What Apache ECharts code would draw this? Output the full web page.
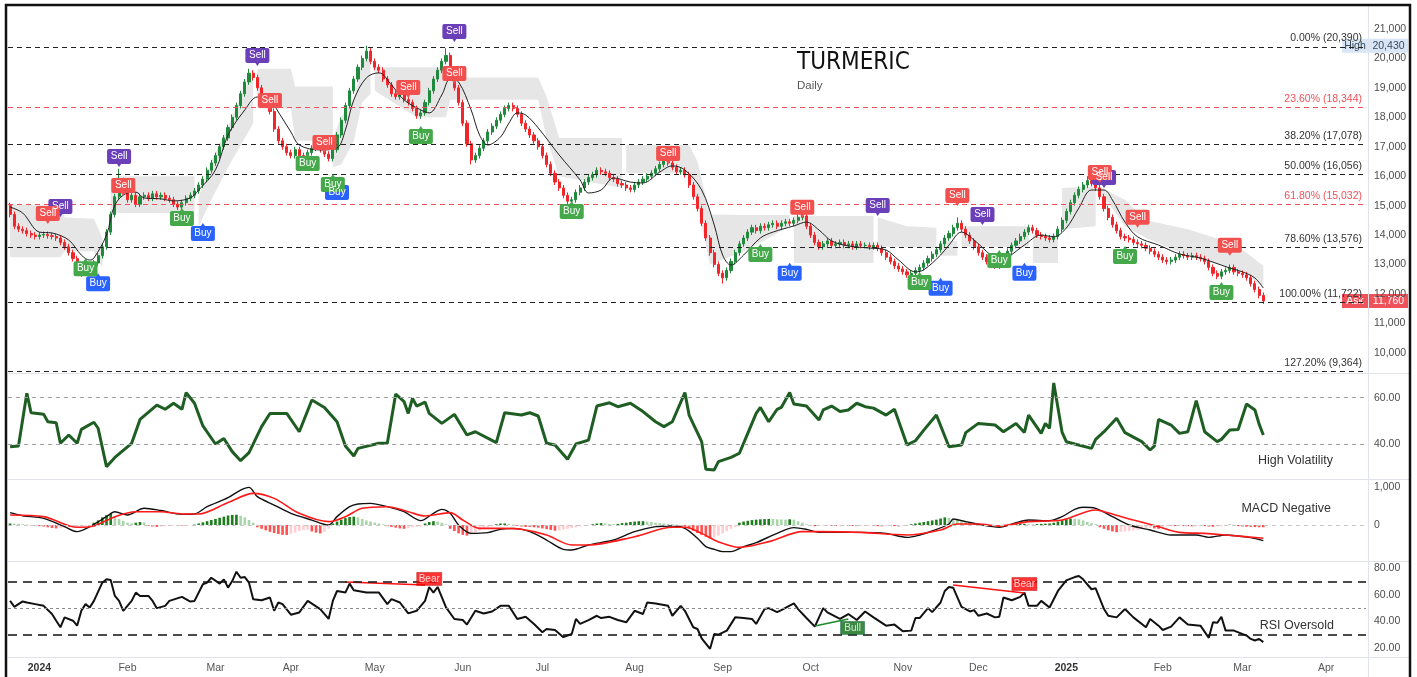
<!DOCTYPE html>
<html>
<head>
<meta charset="utf-8">
<title>TURMERIC Daily</title>
<script src="https://cdn.jsdelivr.net/npm/echarts@6/dist/echarts.min.js"></script>
<style>
  html, body { margin: 0; padding: 0; background: #fff; }
  #main { width: 1417px; height: 677px; }
</style>
</head>
<body>
<div id="main"></div>
<script>
// trading days from 20 Dec 2023, exchange holidays skipped, empty bars up to mid April 2025
const startDate = '2023-12-20';
const holidays = ['2023-12-25', '2024-01-22', '2024-01-26', '2024-03-08', '2024-03-25', '2024-03-29',
  '2024-04-11', '2024-04-17', '2024-05-01', '2024-05-20', '2024-06-17', '2024-07-17', '2024-08-15',
  '2024-10-02', '2024-11-01', '2024-11-15', '2024-11-20', '2024-12-25', '2025-02-26', '2025-03-14'];
const totalBars = 324;
const monthNames = ['Jan', 'Feb', 'Mar', 'Apr', 'May', 'Jun', 'Jul', 'Aug', 'Sep', 'Oct', 'Nov', 'Dec'];

// daily closes (one per trading day)
const firstOpen = 15000;
const closes = [
  14700, 14300, 14200, 14150, 14050, 14000, 13950, 14000, 14020, 13980,
  13950, 13900, 13750, 13600, 13400, 13200, 12950, 12750, 12800, 12900,
  13050, 13300, 13600, 14100, 14700, 15300, 15850, 15450, 15200, 15350,
  15050, 15300, 15350, 15250, 15400, 15300, 15350, 15250, 15200, 15050,
  14950, 15100, 15250, 15350, 15500, 15700, 15900, 16200, 16450, 16700,
  17000, 17300, 17650, 18000, 18400, 18800, 19200, 19500, 19350, 19000,
  18700, 18500, 18200, 17600, 17200, 17000, 16800, 16700, 16900, 16700,
  16600, 16800, 16950, 17000, 16900, 16750, 16600, 16900, 17400, 17900,
  18400, 18900, 19300, 19700, 20000, 20250, 19900, 19700, 19600, 19300,
  19100, 18800, 18700, 18900, 18600, 18500, 18300, 18050, 18150, 18500,
  18900, 19300, 19600, 19900, 20100, 19400, 19000, 18500, 17800, 17100,
  16550, 16700, 16950, 17200, 17500, 17700, 17900, 18100, 18300, 18400,
  18300, 18100, 17800, 17600, 17400, 17200, 17000, 16700, 16400, 16100,
  15800, 15600, 15350, 15150, 15200, 15450, 15600, 15800, 15950, 16050,
  16200, 16150, 16100, 15950, 15900, 15750, 15700, 15600, 15550, 15700,
  15800, 15900, 16000, 16100, 16250, 16400, 16550, 16450, 16300, 16150,
  16200, 16050, 15700, 15300, 14900, 14400, 13900, 13400, 13000, 12700,
  12550, 12800, 13100, 13400, 13700, 13900, 14100, 14250, 14150, 14300,
  14250, 14350, 14400, 14300, 14400, 14450, 14400, 14500, 14600, 14650,
  14300, 14000, 13750, 13600, 13700, 13800, 13650, 13700, 13750, 13650,
  13700, 13600, 13700, 13650, 13650, 13600, 13650, 13550, 13400, 13250,
  13100, 12950, 12850, 12750, 12650, 12700, 12800, 12900, 13050, 13200,
  13350, 13500, 13700, 13900, 14050, 14250, 14400, 14200, 14000, 13800,
  13600, 13400, 13250, 13100, 13000, 12950, 13100, 13250, 13450, 13650,
  13800, 13950, 14100, 14250, 14150, 14000, 13950, 13900, 13850, 13950,
  14200, 14500, 14800, 15100, 15350, 15550, 15700, 15850, 15750, 15600,
  15300, 14900, 14600, 14350, 14150, 13950, 13900, 13850, 13750, 13700,
  13650, 13550, 13450, 13350, 13250, 13150, 13100, 13150, 13250, 13350,
  13300, 13250, 13300, 13250, 13200, 13100, 12900, 12700, 12600, 12750,
  12800, 12900, 12750, 12700, 12650, 12550, 12350, 12150, 11950, 11760
];
const wick = 100;
const highPeaks = { 26: 16250, 57: 19650, 85: 20430, 104: 20350, 119: 18500, 226: 14600, 257: 16000 };
const lowTroughs = { 17: 12580, 110: 16400, 170: 12350, 214: 12550, 235: 12850 };

// black moving average [bar, price]
const maLine = [[0,14950],[3,14750],[7,14100],[10,14070],[14,13830],[17,13320],[19,13150],[20,13220],[23,14000],[25,15020],[28,15430],[30,15460],[32,15260],[36,15230],[39,15160],[43,15260],[45,15530],[49,16210],[52,17400],[56,18250],[59,18690],[62,18590],[64,18180],[67,17500],[69,17060],[74,16890],[78,16960],[80,17570],[82,18590],[85,19340],[88,19510],[91,19100],[94,18590],[98,18250],[100,18150],[103,18760],[105,19300],[107,19200],[110,18250],[112,17400],[114,17060],[117,17330],[119,17800],[121,18150],[123,18080],[126,17640],[131,16720],[136,15870],[138,15430],[141,15530],[144,15940],[148,15800],[151,15770],[155,16140],[158,16350],[161,16210],[165,15530],[168,14340],[170,13320],[172,12980],[175,13320],[179,13900],[182,14100],[187,14310],[190,14440],[193,14170],[196,13800],[200,13630],[205,13560],[209,13490],[212,13150],[216,12750],[218,12820],[222,13320],[224,13660],[227,14100],[230,13830],[234,13320],[236,13190],[238,13250],[242,13660],[246,14000],[249,13940],[252,14240],[255,14920],[258,15530],[261,15530],[263,15190],[266,14440],[269,13940],[274,13660],[279,13360],[284,13220],[287,13080],[291,12880],[294,12750],[297,12540],[299,12200]];

// grey cloud: segments of [bar, lower, upper]
const bandSegments = [
  [[0,13250,15050],[12,13250,15000],[13,13450,14600],[20,13450,14550],[22,12900,13900]],
  [[24,14800,15900],[26,14750,16000],[44,14750,16000]],
  [[45,14300,15300],[48,15200,16500],[52,16300,17700],[56,17300,19000],[58,17800,19600]],
  [[59,18300,19650],[67,18300,19650],[68,17200,19050],[77,17200,19050]],
  [[77,16300,17300],[79,16400,18000],[82,17200,18600],[84,18500,19900],[86,18800,20100]],
  [[87,18900,19700],[97,18000,19700],[104,18000,19700],[105,18600,19350],[126,18600,19350],[128,17300,18700],[131,16000,17300],[146,15600,17300]],
  [[147,16100,17060],[162,16100,17060],[164,15000,16500],[167,13000,14700],[176,13500,14680],[186,14300,14680]],
  [[187,13050,14650],[206,13050,14650]],
  [[207,13600,14600],[214,13600,14300],[221,13550,14250]],
  [[222,13300,13800],[226,13300,13800]],
  [[227,13600,14300],[243,13600,14300]],
  [[244,13050,14000],[250,13050,14000]],
  [[251,14200,15600],[259,14300,15650]],
  [[260,15500,15650],[263,14900,15400],[266,14300,15200],[271,13900,14500],[281,13300,14200],[291,12900,13750],[295,12700,13400],[299,12200,12950]]
];

// fibonacci retracement
const fibLevels = [20390, 18344, 17078, 16056, 15032, 13576, 11722, 9364];
const fibNames = ['0.00%', '23.60%', '38.20%', '50.00%', '61.80%', '78.60%', '100.00%', '127.20%'];
const fibRed = [false, true, false, false, true, false, false, false];

// signal flags [bar, price]
const sellRed = [[9,14680],[27,15630],[62,18520],[75,17090],[95,18960],[106,19440],[157,16720],[189,14890],[226,15290],[260,16070],[269,14550],[291,13600]];
const sellPurple = [[12,14920],[26,16620],[59,20050],[106,20860],[207,14950],[232,14650],[261,15900]];
const buyGreen = [[18,12910],[41,14610],[71,16480],[77,15770],[98,17400],[134,14850],[179,13390],[217,12440],[236,13190],[266,13320],[289,12100]];
const buyBlue = [[21,12400],[46,14100],[78,15500],[186,12750],[222,12240],[242,12750]];

// volatility [bar, value]
const volatility = [[0,38.8],[2,39.1],[4,61.9],[5,53.5],[8,52.9],[9,49.6],[11,49.2],[12,40.3],[14,43.9],[16,40.3],[17,46.3],[20,49.4],[21,46.8],[23,30.2],[25,34.2],[29,40.3],[31,50.6],[35,56.8],[37,55],[39,57.6],[41,55],[42,62.2],[44,57.6],[46,47.8],[49,40],[51,42.4],[53,36.7],[55,32.8],[57,36.3],[60,47.5],[62,53.2],[66,53.2],[69,45.3],[72,59],[75,55.8],[78,49.6],[80,39.1],[82,34.8],[83,38.1],[88,40.3],[90,40.3],[92,61.6],[94,58.3],[95,53.2],[96,59.7],[97,56.4],[99,58.1],[100,53.2],[103,48.9],[106,52.8],[109,43.9],[111,45.3],[116,40.6],[118,53.5],[122,52.5],[124,53.5],[126,52.1],[128,40.3],[130,39.6],[133,33.4],[135,40],[138,41.7],[140,56.4],[143,57.8],[145,56.1],[148,57.6],[151,54],[154,49.6],[156,47.5],[158,49.6],[161,62.2],[162,52.5],[165,41],[166,29.1],[168,28.8],[169,32.4],[172,34.2],[174,36],[176,44.6],[178,53.2],[179,55.8],[181,49.6],[183,55],[184,55.8],[186,62.2],[187,57.3],[190,56.4],[193,50.4],[194,54.7],[196,56.4],[198,54],[200,54.7],[202,57.6],[204,56.1],[206,55.5],[209,52.5],[211,55],[214,39.6],[216,41.4],[218,46],[221,52.5],[224,38.8],[227,39.6],[228,44.9],[231,48.9],[235,48.2],[237,45.3],[240,48.9],[242,45],[243,52.5],[246,44.6],[247,48.9],[248,46.8],[249,66.4],[251,45],[252,41],[254,40],[258,38.1],[259,42],[261,45.3],[264,51.1],[266,44.9],[270,41],[272,37.4],[273,39.1],[274,50.6],[277,48.2],[279,44.6],[281,45.3],[283,58.7],[285,45.3],[288,41],[289,42],[291,46],[293,46.3],[295,57.3],[297,54.7],[298,48.6],[299,43.9]];

// MACD and signal [bar, value]
const macdLine = [[0,325],[3,245],[8,175],[13,-44],[16,-175],[19,-44],[23,220],[25,350],[28,263],[32,440],[36,380],[41,280],[44,290],[47,482],[52,720],[55,920],[57,990],[59,745],[63,526],[67,307],[72,130],[76,0],[78,220],[81,482],[83,553],[86,570],[90,482],[94,350],[98,114],[101,307],[103,412],[105,307],[107,0],[110,-220],[114,-200],[117,-114],[120,-88],[124,-175],[128,-395],[132,-640],[134,-658],[138,-526],[144,-395],[149,-175],[154,-44],[158,-26],[161,-88],[164,-350],[166,-570],[168,-640],[170,-700],[172,-700],[175,-570],[178,-465],[183,-220],[187,-70],[190,-114],[193,-193],[198,-193],[203,-193],[209,-220],[214,-325],[217,-263],[220,-158],[224,26],[225,158],[228,88],[231,18],[236,-61],[240,61],[243,132],[248,114],[251,220],[254,412],[256,465],[259,438],[263,220],[267,0],[272,-132],[277,-263],[283,-263],[286,-325],[290,-263],[296,-333],[299,-412]];
const signalLine = [[0,263],[8,220],[16,-61],[20,-26],[25,220],[30,350],[36,350],[41,290],[45,290],[52,590],[58,833],[63,700],[69,307],[76,88],[80,220],[84,440],[90,482],[95,350],[99,237],[105,325],[108,132],[112,-88],[117,-88],[122,-114],[128,-263],[134,-526],[138,-526],[149,-307],[158,-61],[161,-61],[165,-220],[168,-395],[170,-482],[174,-588],[181,-438],[189,-175],[193,-175],[203,-193],[214,-263],[222,-132],[226,26],[231,26],[236,-26],[243,88],[251,132],[259,395],[261,350],[268,132],[274,-44],[279,-193],[285,-220],[290,-263],[299,-350]];
// histogram runs: [first bar, values...]
const histRuns = [
  [0, [40,35,30,20,10]],
  [5, [-10,-20,-30,-40,-60,-80,-90,-85]],
  [13, [-70,-60,-50,-40,-30,-20,-10]],
  [20, [60,120,200,260,290,220,160,110,60,40]],
  [30, [60,80,70,-20,-40,-50,-45,-30,-20,-15,-10,-15,-10,-5,10]],
  [45, [40,70,100,130,160,190,220,250,265,270,240,200,130,60]],
  [59, [-60,-100,-140,-180,-210,-240,-260,-263,-230,-200,-160,-130,-120,-170,-200,-220,-180,-100]],
  [77, [40,90,140,180,210,220,200,160,120,90,60,40,20]],
  [90, [-30,-50,-70,-90,-100,-80,-60,-50,-40,40,80,100,90,60,20]],
  [105, [-100,-160,-220,-260,-280,-250,-200,-150,-110,-70,-40,20,40,40,30,10]],
  [121, [-20,-40,-50,-50,-60,-70,-90,-110,-130,-150,-140,-120,-100,-80,-60,-40,-20,-10]],
  [139, [20,40,50,40,30,20,30,50,60,80,90,100,100,90,80,60,50,40,30,20,10,5]],
  [161, [-40,-90,-150,-210,-260,-310,-350,-330,-280,-220,-160,-100,-50]],
  [174, [60,90,110,130,140,150,155,160,158,150,145,140,150,140,100,60,20]],
  [191, [-20,-30,-25,-20,-15,-20,-25,-20,-15,-20,-25,-30,-25,-20,-15,-20,-30,-35,-30,-25,-30,-35,-30,-20]],
  [215, [20,40,60,80,100,120,140,170,200,190,160,140,110,80,60,40,25,10]],
  [233, [-10,-20,-25,-30,-25,-20,-10,20,30,30,25,20,25,30,35,40]],
  [249, [60,90,120,150,170,165,150,120,80,50,20]],
  [260, [-60,-100,-140,-170,-190,-180,-170,-160,-140,-120,-100,-80,-70,-90,-100]],
  [275, [-50,-40,-30,-30,-20,-25,-30,-35,-30,-25,-30,-40,-45,-40,-35,-30,10,5]],
  [293, [-30,-40,-45,-50,-55,-60,-60]]
];

// RSI [bar, value]
const rsiLine = [[0,55.4],[1,51],[3,55],[4,54.2],[6,53],[8,51.7],[10,45.6],[11,40.6],[12,35.7],[13,43.1],[15,40.6],[16,36.9],[17,48],[18,53],[19,50.5],[20,55.4],[22,69],[23,71.5],[24,71],[25,59.1],[26,55.4],[27,48],[29,55.4],[30,61.6],[31,59.1],[33,59.1],[34,55.4],[35,50],[37,51.7],[38,55.4],[41,58.4],[43,54.9],[44,55.4],[46,67.8],[47,69],[48,72.7],[50,68.3],[51,71.5],[52,65.3],[53,70.2],[54,77.2],[55,72.7],[56,73.2],[57,69],[58,56.7],[60,55.9],[62,57.9],[63,48],[64,54.2],[65,53],[67,45.1],[69,46.8],[71,55.4],[74,49.3],[76,41.9],[77,55.4],[78,62.8],[80,61.6],[81,68.3],[82,63.3],[84,62.3],[85,61.6],[88,61.6],[90,53],[91,56.7],[93,54.2],[95,46.1],[97,48],[99,55.4],[100,65.8],[101,61.6],[102,65.8],[104,50.5],[106,41.9],[108,41.1],[109,37.7],[111,48],[113,46],[115,47.5],[117,51.7],[119,51.7],[121,41.9],[123,43.6],[125,38.2],[127,32],[128,34.4],[130,33.7],[132,28.3],[134,30.7],[135,41.9],[136,38.2],[138,41.1],[140,44.3],[141,42.6],[143,43.5],[145,41.1],[147,39.4],[149,48],[151,45.6],[152,54.2],[154,53.5],[157,51.7],[158,44.3],[160,51.7],[161,48],[163,35.7],[164,34.4],[165,27.5],[167,19.6],[168,30.7],[169,30.2],[171,33.2],[173,43.1],[175,42.6],[177,41.9],[178,38.2],[180,49.3],[181,50],[183,47],[184,48.5],[187,53.5],[188,49.3],[190,42.6],[192,36.2],[194,50],[195,46.8],[198,41.9],[200,45.6],[202,41.1],[204,47.5],[206,43.1],[209,36.9],[211,37.7],[213,32.7],[215,33.2],[216,42.6],[217,42.6],[219,50],[220,47],[222,54.2],[223,62.8],[224,65.8],[225,65.3],[227,51],[229,47.5],[230,48.5],[231,44.3],[233,46],[235,43.1],[236,43.5],[237,57.9],[239,55.9],[241,58.4],[242,61.6],[243,51.7],[245,51.7],[246,55.4],[248,50.5],[250,62.8],[252,70.7],[254,73.2],[255,74],[256,71.5],[258,64.1],[259,64.8],[261,49.3],[262,44.3],[264,43.1],[266,49.3],[268,43.1],[271,35.7],[272,41.9],[274,36.9],[275,33.7],[277,36.2],[279,43.1],[281,37.7],[284,36.9],[286,27.8],[287,39.4],[288,39],[289,43.6],[290,33.2],[292,33.2],[295,29.5],[296,27],[297,25.8],[298,27],[299,24.6]];
const bearLines = [[[80,69.5],[99,67.3]], [[225,67.3],[242,61.3]]];
const bullLines = [[[192,36.6],[200,41.8]]];
const bearTags = [[100,71.8],[242,68]];
const bullTags = [[201,35.2]];

// ---- build categories
const holidaySet = new Set(holidays);
const cats = [];
let d = new Date(startDate + 'T00:00:00Z');
while (cats.length < totalBars) {
  const s = d.toISOString().slice(0, 10);
  const wd = d.getUTCDay();
  if (wd !== 0 && wd !== 6 && !holidaySet.has(s)) cats.push(s);
  d.setUTCDate(d.getUTCDate() + 1);
}

const candles = closes.map((c, i) => {
  const o = i === 0 ? firstOpen : closes[i - 1];
  const hi = highPeaks[i] !== undefined ? highPeaks[i] : Math.max(o, c) + wick;
  const lo = lowTroughs[i] !== undefined ? lowTroughs[i] : Math.min(o, c) - wick;
  return [o, c, lo, hi];
});

const histData = [];
histRuns.forEach(([start, vals]) => vals.forEach((v, k) => histData.push([start + k, v])));
histData.sort((a, b) => a[0] - b[0]);
const histItems = histData.map((p, i) => {
  const prev = i > 0 ? histData[i - 1][1] : p[1];
  let col;
  if (p[1] >= 0) col = p[1] >= prev ? '#1b7d1b' : '#a8d5a9';
  else col = p[1] <= prev ? '#ff5252' : '#ffcdd2';
  return { value: p, itemStyle: { color: col } };
});

const axisFont = 'Liberation Sans, Arial, sans-serif';

function flagPath(pointDown) {
  return pointDown
    ? 'path://M2,0 H22 Q24,0 24,2 V13 Q24,15 22,15 H14 L12,18 L10,15 H2 Q0,15 0,13 V2 Q0,0 2,0 Z'
    : 'path://M10,3 L12,0 L14,3 H22 Q24,3 24,5 V16 Q24,18 22,18 H2 Q0,18 0,16 V5 Q0,3 2,3 Z';
}
function flagSeries(name, data, color, text, pointDown) {
  return {
    name, type: 'scatter', xAxisIndex: 0, yAxisIndex: 0, z: 6, silent: true,
    symbol: flagPath(pointDown), symbolSize: [24, 18],
    itemStyle: { color, opacity: 1 },
    label: { show: true, position: 'inside', formatter: text, color: '#fff', fontSize: 10,
      fontFamily: axisFont, offset: [0, pointDown ? -1.5 : 1.5] },
    data
  };
}

const xAxes = [0, 1, 2, 3].map(i => ({
  type: 'category', gridIndex: i, data: cats, boundaryGap: true,
  axisLine: { show: false }, axisTick: { show: false }, splitLine: { show: false },
  axisLabel: i === 3 ? {
    show: true, margin: 6, fontSize: 10.5, color: '#555', fontFamily: axisFont,
    interval: (idx, val) => idx > 0 && val.slice(0, 7) !== cats[idx - 1].slice(0, 7),
    formatter: val => {
      const m = +val.slice(5, 7) - 1;
      return m === 0 ? '{yr|' + val.slice(0, 4) + '}' : monthNames[m];
    },
    rich: { yr: { fontWeight: 'bold', color: '#333', fontSize: 10.5, fontFamily: axisFont } }
  } : { show: false }
}));

function yAxisDef(grid, min, max, split, fmt) {
  return {
    type: 'value', gridIndex: grid, position: 'right', min, max, splitNumber: split,
    axisLine: { show: false }, axisTick: { show: false }, splitLine: { show: false },
    axisLabel: { margin: 8, fontSize: 10.5, color: '#4d4d4d', fontFamily: axisFont, formatter: fmt }
  };
}

const chart = echarts.init(document.getElementById('main'));
chart.setOption({
  animation: false,
  backgroundColor: '#fff',
  grid: [
    { left: 8, width: 1358, top: 7, height: 366 },
    { left: 8, width: 1358, top: 373, height: 106 },
    { left: 8, width: 1358, top: 479, height: 82 },
    { left: 8, width: 1358, top: 561, height: 96 }
  ],
  xAxis: xAxes,
  yAxis: [
    yAxisDef(0, 9314, 21747, 12, v => (v % 1000 === 0 ? v.toLocaleString('en-US') : '')),
    yAxisDef(1, 24.88, 70.67, 2, v => (v % 20 === 0 ? v.toFixed(2) : '')),
    yAxisDef(2, -947, 1210, 2, v => (v === 0 || v === 1000 ? v.toLocaleString('en-US') : '')),
    yAxisDef(3, 13.5, 85.2, 4, v => (v % 20 === 0 ? v.toFixed(2) : ''))
  ],
  series: [
    {
      name: 'cloud', type: 'custom', xAxisIndex: 0, yAxisIndex: 0, z: 1, silent: true,
      encode: { x: 0, y: 1 },
      data: bandSegments.map(s => [s[0][0], s[0][2]]),
      renderItem: (params, api) => {
        const seg = bandSegments[params.dataIndex];
        const upper = seg.map(p => api.coord([p[0], p[2]]));
        const lower = seg.slice().reverse().map(p => api.coord([p[0], p[1]]));
        return { type: 'polygon', shape: { points: upper.concat(lower) }, style: { fill: '#e6e6e6' } };
      }
    },
    {
      name: 'TURMERIC', type: 'candlestick', xAxisIndex: 0, yAxisIndex: 0, z: 3,
      barWidth: 2.6, data: candles,
      itemStyle: { color: '#1f8a3c', color0: '#f0262b', borderColor: '#1f8a3c', borderColor0: '#f0262b', borderWidth: 1 },
      markLine: {
        silent: true, symbol: ['none', 'none'], animation: false,
        data: fibLevels.map((lv, i) => ({
          yAxis: lv,
          lineStyle: { color: fibRed[i] ? '#f0505a' : '#222', type: [5, 4], width: 1 },
          label: {
            show: true, position: 'insideEndTop', distance: [4, 3],
            formatter: fibNames[i] + ' (' + lv.toLocaleString('en-US') + ')',
            color: fibRed[i] ? '#f0505a' : '#333', fontSize: 10.5, fontFamily: axisFont
          }
        }))
      }
    },
    {
      name: 'MA', type: 'line', xAxisIndex: 0, yAxisIndex: 0, z: 4, data: maLine,
      smooth: 0.35, showSymbol: false, lineStyle: { color: '#222', width: 1 }, silent: true
    },
    flagSeries('sellPurple', sellPurple, '#6a3fb8', 'Sell', true),
    flagSeries('sellRed', sellRed, '#f2504f', 'Sell', true),
    flagSeries('buyBlue', buyBlue, '#2962ff', 'Buy', false),
    flagSeries('buyGreen', buyGreen, '#45a84a', 'Buy', false),
    {
      name: 'Volatility', type: 'line', xAxisIndex: 1, yAxisIndex: 1, data: volatility,
      showSymbol: false, lineStyle: { color: '#1e5e22', width: 3 }, silent: true,
      markLine: {
        silent: true, symbol: ['none', 'none'], label: { show: false },
        lineStyle: { color: '#a0a0a0', type: [4, 4], width: 1 },
        data: [{ yAxis: 60 }, { yAxis: 40 }]
      }
    },
    {
      name: 'Histogram', type: 'bar', xAxisIndex: 2, yAxisIndex: 2, barWidth: 2.6, data: histItems, silent: true,
      markLine: {
        silent: true, symbol: ['none', 'none'], label: { show: false },
        lineStyle: { color: '#c8c8c8', type: [4, 4], width: 1 },
        data: [{ yAxis: 0 }]
      }
    },
    {
      name: 'MACD', type: 'line', xAxisIndex: 2, yAxisIndex: 2, data: macdLine, smooth: 0.3,
      showSymbol: false, lineStyle: { color: '#111', width: 1.4 }, silent: true
    },
    {
      name: 'Signal', type: 'line', xAxisIndex: 2, yAxisIndex: 2, data: signalLine, smooth: 0.3,
      showSymbol: false, lineStyle: { color: '#ff1a1a', width: 1.6 }, silent: true
    },
    {
      name: 'RSI', type: 'line', xAxisIndex: 3, yAxisIndex: 3, data: rsiLine,
      showSymbol: false, lineStyle: { color: '#111', width: 2 }, silent: true,
      markLine: {
        silent: true, symbol: ['none', 'none'], label: { show: false },
        data: [
          { yAxis: 70, lineStyle: { color: '#111', type: [9, 6], width: 1.6 } },
          { yAxis: 50, lineStyle: { color: '#8a8a8a', type: [3, 3], width: 1 } },
          { yAxis: 30, lineStyle: { color: '#111', type: [9, 6], width: 1.6 } }
        ]
      }
    },
    ...bearLines.map(seg => ({
      type: 'line', xAxisIndex: 3, yAxisIndex: 3, data: seg, showSymbol: false, z: 4,
      lineStyle: { color: '#ff1010', width: 1.5 }, silent: true
    })),
    ...bullLines.map(seg => ({
      type: 'line', xAxisIndex: 3, yAxisIndex: 3, data: seg, showSymbol: false, z: 4,
      lineStyle: { color: '#1b8a2a', width: 1.5 }, silent: true
    })),
    {
      type: 'scatter', xAxisIndex: 3, yAxisIndex: 3, data: bearTags, z: 6, silent: true,
      symbol: 'rect', symbolSize: [25, 13], itemStyle: { color: '#ff0000', borderColor: '#a00', borderWidth: 0.5 },
      label: { show: true, position: 'inside', formatter: 'Bear', color: '#fff', fontSize: 10, fontFamily: axisFont }
    },
    {
      type: 'scatter', xAxisIndex: 3, yAxisIndex: 3, data: bullTags, z: 6, silent: true,
      symbol: 'rect', symbolSize: [24, 13], itemStyle: { color: '#0b6b14', borderColor: '#053', borderWidth: 0.5 },
      label: { show: true, position: 'inside', formatter: 'Bull', color: '#fff', fontSize: 10, fontFamily: axisFont }
    }
  ]
});

// price tags on the right scale, frame, pane separators and captions
function priceTag(value, name, bg, fg) {
  const y = chart.convertToPixel({ yAxisIndex: 0 }, value);
  return [
    { type: 'rect', shape: { x: 1342, y: y - 7, width: 26, height: 14 }, style: { fill: bg } },
    { type: 'text', style: { text: name, x: 1355, y: y, align: 'center', verticalAlign: 'middle', fill: fg, fontSize: 10.5, fontFamily: axisFont } },
    { type: 'rect', shape: { x: 1369, y: y - 7, width: 39, height: 14 }, style: { fill: bg } },
    { type: 'text', style: { text: value.toLocaleString('en-US'), x: 1388.5, y: y, align: 'center', verticalAlign: 'middle', fill: fg, fontSize: 10.5, fontFamily: axisFont } }
  ];
}
function hLine(y) {
  return { type: 'line', shape: { x1: 8, y1: y, x2: 1409, y2: y }, style: { stroke: '#e0e3eb', lineWidth: 1 } };
}
function caption(text, x, y) {
  return { type: 'text', style: { text, x, y, align: 'right', verticalAlign: 'middle', fill: '#333', fontSize: 12.5, fontFamily: axisFont } };
}

chart.setOption({
  graphic: [
    hLine(373.5), hLine(479.5), hLine(561.5), hLine(657.5),
    { type: 'line', shape: { x1: 1368.5, y1: 6, x2: 1368.5, y2: 677 }, style: { stroke: '#e0e3eb', lineWidth: 1 } },
    ...priceTag(20430, 'High', '#d9e6f6', '#3a4a5c'),
    ...priceTag(11760, 'Ask', '#f0525a', '#fff'),
    { type: 'text', style: { text: 'TURMERIC', x: 797, y: 51, fill: '#111', fontSize: 24,
      fontFamily: '"DejaVu Sans Condensed", "Liberation Sans Narrow", "DejaVu Sans", sans-serif' } },
    { type: 'text', style: { text: 'Daily', x: 797, y: 80, fill: '#555', fontSize: 11.5, fontFamily: axisFont } },
    caption('High Volatility', 1333, 461),
    caption('MACD Negative', 1331, 509),
    caption('RSI Oversold', 1334, 626),
    { type: 'rect', z: 200, shape: { x: 6, y: 5, width: 1404, height: 690 },
      style: { fill: 'none', stroke: '#111', lineWidth: 2.5 } }
  ]
});
</script>
</body>
</html>
